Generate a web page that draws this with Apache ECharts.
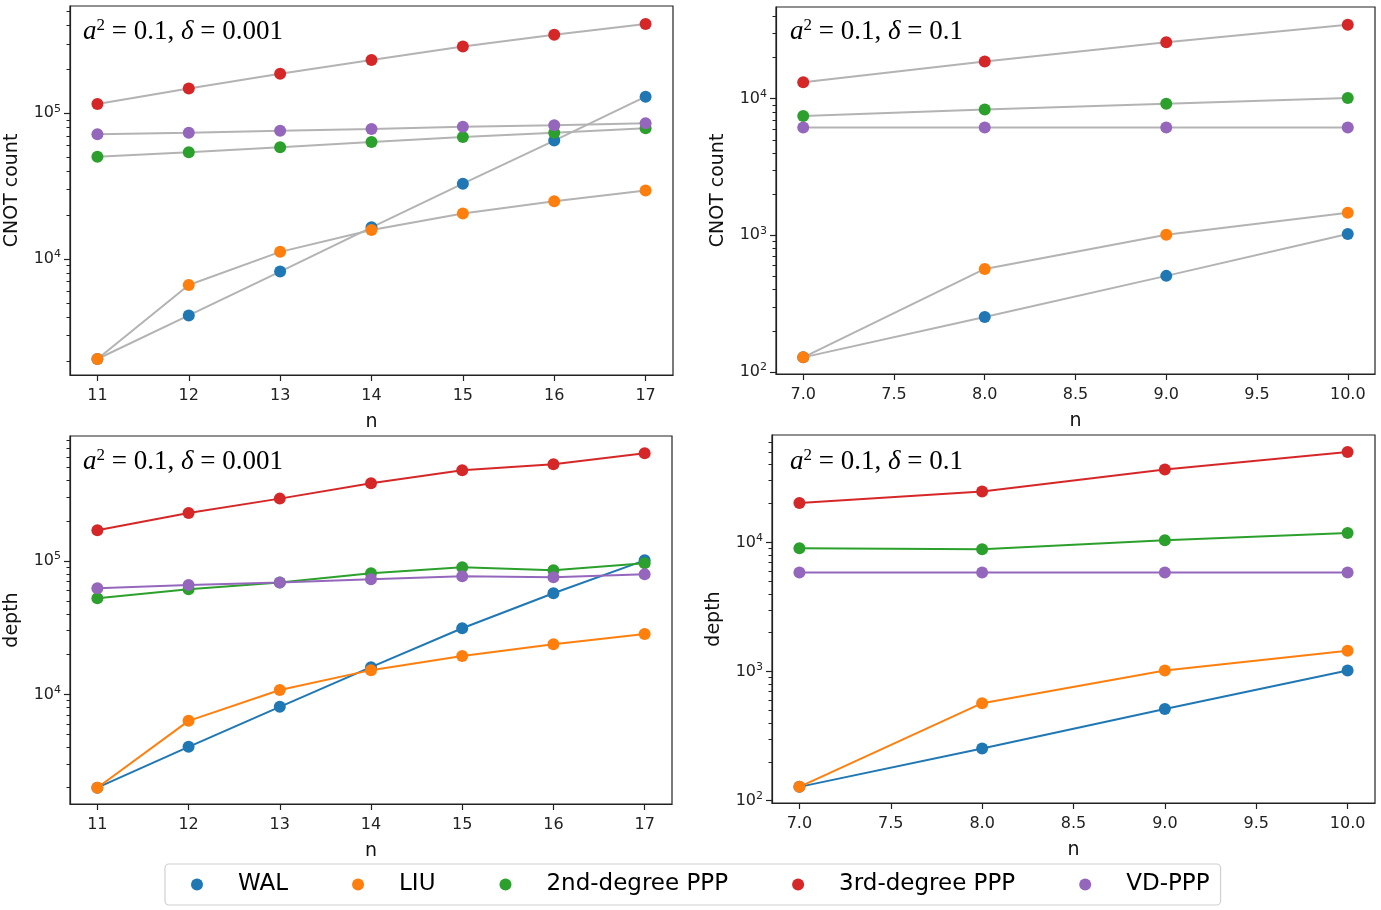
<!DOCTYPE html>
<html><head><meta charset="utf-8">
<script src="https://cdn.jsdelivr.net/npm/echarts@6/dist/echarts.min.js"></script>
<style>html,body{margin:0;padding:0;background:#fff}#c{width:1381px;height:910px}</style>
</head><body><div id="c"></div>
<script>
// ---------- data ----------
const methods = ['WAL', 'LIU', '2nd-degree PPP', '3rd-degree PPP', 'VD-PPP'];
const colors = ['#1f77b4', '#ff7f0e', '#2ca02c', '#d62728', '#9467bd'];

const nLarge = [11, 12, 13, 14, 15, 16, 17];
const nSmall = [7, 8, 9, 10];
const xTicksLarge = [11, 12, 13, 14, 15, 16, 17];
const xTicksSmall = [7, 7.5, 8, 8.5, 9, 9.5, 10];

// CNOT count, a^2 = 0.1, delta = 0.001
const cnotLargeWAL = [2060, 4100, 8200, 16500, 32900, 65000, 130000];
const cnotLargeLIU = [2060, 6640, 11200, 15800, 20500, 24900, 29500];
const cnotLarge2nd = [50400, 54000, 58500, 63500, 68800, 73600, 78900];
const cnotLarge3rd = [116000, 148000, 187000, 232000, 287000, 346000, 410000];
const cnotLargeVD  = [71800, 73600, 76000, 78000, 80900, 82800, 85400];

// CNOT count, a^2 = 0.1, delta = 0.1
const cnotSmallWAL = [128, 253, 505, 1024];
const cnotSmallLIU = [128, 568, 1010, 1460];
const cnotSmall2nd = [7460, 8310, 9190, 10100];
const cnotSmall3rd = [13200, 18700, 25800, 34700];
const cnotSmallVD  = [6140, 6140, 6140, 6150];

// depth, a^2 = 0.1, delta = 0.001
const depthLargeWAL = [2000, 4050, 8070, 16000, 31300, 57300, 101000];
const depthLargeLIU = [2000, 6340, 10800, 15200, 19400, 23800, 28300];
const depthLarge2nd = [52600, 61400, 68900, 80900, 89700, 85200, 96000];
const depthLarge3rd = [170000, 229000, 293000, 382000, 478000, 530000, 641000];
const depthLargeVD  = [62500, 66100, 68900, 73000, 76800, 75500, 79400];

// depth, a^2 = 0.1, delta = 0.1
const depthSmallWAL = [128, 254, 512, 1020];
const depthSmallLIU = [128, 569, 1020, 1450];
const depthSmall2nd = [9000, 8830, 10400, 11800];
const depthSmall3rd = [20200, 24800, 36600, 50000];
const depthSmallVD  = [5850, 5850, 5850, 5850];

// ---------- panels ----------
const FONT = 'DejaVu Sans';
const panels = [
  { grid: {left: 70, top: 6, width: 603, height: 369}, xs: nLarge, xMin: 10.7, xMax: 17.3, xTicks: xTicksLarge, dec: 0,
    yMin: 1600, yMax: 545000, yName: 'CNOT count', gray: true, delta: '0.001', tPos: [83, 17],
    data: [cnotLargeWAL, cnotLargeLIU, cnotLarge2nd, cnotLarge3rd, cnotLargeVD] },
  { grid: {left: 776, top: 7, width: 599, height: 367}, xs: nSmall, xMin: 6.85, xMax: 10.15, xTicks: xTicksSmall, dec: 1,
    yMin: 96.7, yMax: 46800, yName: 'CNOT count', gray: true, delta: '0.1', tPos: [790, 17],
    data: [cnotSmallWAL, cnotSmallLIU, cnotSmall2nd, cnotSmall3rd, cnotSmallVD] },
  { grid: {left: 70, top: 436, width: 602, height: 368}, xs: nLarge, xMin: 10.7, xMax: 17.3, xTicks: xTicksLarge, dec: 0,
    yMin: 1510, yMax: 863000, yName: 'depth', gray: false, delta: '0.001', tPos: [83, 447],
    data: [depthLargeWAL, depthLargeLIU, depthLarge2nd, depthLarge3rd, depthLargeVD] },
  { grid: {left: 772, top: 435, width: 603, height: 368}, xs: nSmall, xMin: 6.85, xMax: 10.15, xTicks: xTicksSmall, dec: 1,
    yMin: 96, yMax: 67800, yName: 'depth', gray: false, delta: '0.1', tPos: [790, 447],
    data: [depthSmallWAL, depthSmallLIU, depthSmall2nd, depthSmall3rd, depthSmallVD] }
];

function logTicks(min, max) {
  const major = [], minor = [];
  for (let k = Math.floor(Math.log10(min)); k <= Math.ceil(Math.log10(max)); k++) {
    const p = Math.pow(10, k);
    if (p >= min && p <= max) major.push(p);
    for (let m = 2; m <= 9; m++) { const v = m * p; if (v >= min && v <= max) minor.push(v); }
  }
  return {major, minor};
}

const grids = [], xAxes = [], yAxes = [], series = [], titles = [];
const axisColor = '#222';
const serifI = {fontFamily: 'Liberation Serif', fontStyle: 'italic', fontWeight: 'normal', fontSize: 27, color: '#000', lineHeight: 30};
const serifN = {fontFamily: 'Liberation Serif', fontStyle: 'normal', fontWeight: 'normal', fontSize: 27, color: '#000', lineHeight: 30};
const serifS = {fontFamily: 'Liberation Serif', fontStyle: 'normal', fontWeight: 'normal', fontSize: 17, color: '#000', lineHeight: 19, verticalAlign: 'top'};
panels.forEach((p, g) => {
  grids.push(Object.assign({show: true, borderColor: axisColor, borderWidth: 1.2, backgroundColor: 'transparent'}, p.grid));
  xAxes.push({
    type: 'value', gridIndex: g, min: p.xMin, max: p.xMax,
    name: 'n', nameLocation: 'middle', nameGap: 38,
    nameTextStyle: {fontFamily: FONT, fontSize: 19, color: '#111'},
    axisLine: {show: true, onZero: false, lineStyle: {color: axisColor, width: 1.2}},
    axisTick: {show: true, length: 6, lineStyle: {color: axisColor, width: 1.2}, customValues: p.xTicks},
    axisLabel: {fontFamily: FONT, fontSize: 16, color: '#222', margin: 13, customValues: p.xTicks,
      formatter: v => Number(v).toFixed(p.dec)},
    splitLine: {show: false}
  });
  const t = logTicks(p.yMin, p.yMax);
  yAxes.push({
    type: 'log', logBase: 10, gridIndex: g, position: 'left', min: p.yMin, max: p.yMax,
    name: p.yName, nameLocation: 'middle', nameGap: 48, nameRotate: 90,
    nameTextStyle: {fontFamily: FONT, fontSize: 19, color: '#111'},
    axisLine: {show: true, lineStyle: {color: axisColor, width: 1.2}},
    axisTick: {show: true, length: 6, lineStyle: {color: axisColor, width: 1.2}, customValues: t.major},
    axisLabel: {margin: 9, customValues: t.major,
      formatter: v => '{b|10}{s|' + Math.round(Math.log10(v)) + '}',
      rich: {b: {fontFamily: FONT, fontSize: 16, color: '#222', lineHeight: 20},
             s: {fontFamily: FONT, fontSize: 11, color: '#222', lineHeight: 12, verticalAlign: 'top'}}},
    splitLine: {show: false}, minorTick: {show: false}
  });
  yAxes.push({
    type: 'log', logBase: 10, gridIndex: g, position: 'left', offset: 0, min: p.yMin, max: p.yMax,
    axisLine: {show: false},
    axisTick: {show: true, length: 3.5, lineStyle: {color: axisColor, width: 1}, customValues: t.minor},
    axisLabel: {show: false},
    splitLine: {show: false}
  });
  titles.push({
    left: p.tPos[0], top: p.tPos[1], padding: 0,
    text: '{i|a}{s|2}{n| = 0.1, }{i|δ}{n| = ' + p.delta + '}',
    textStyle: {fontWeight: 'normal', fontFamily: 'Liberation Serif', fontSize: 27,
      rich: {i: serifI, n: serifN, s: serifS}}
  });
  const yi = 2 * g;
  p.data.forEach((arr, m) => {
    const pts = p.xs.map((x, i) => [x, arr[i]]);
    if (p.gray) {
      series.push({type: 'line', name: '_link' + m, xAxisIndex: g, yAxisIndex: yi, data: pts,
        symbol: 'none', lineStyle: {color: '#b3b3b3', width: 2}, z: 2, silent: true});
      series.push({type: 'scatter', name: methods[m], xAxisIndex: g, yAxisIndex: yi, data: pts,
        symbol: 'circle', symbolSize: 12, itemStyle: {color: colors[m], opacity: 1}, z: 3});
    } else {
      series.push({type: 'line', name: methods[m], xAxisIndex: g, yAxisIndex: yi, data: pts,
        symbol: 'circle', symbolSize: 12, showSymbol: true,
        lineStyle: {color: colors[m], width: 2}, itemStyle: {color: colors[m], opacity: 1}, z: 3});
    }
  });
});

const chart = echarts.init(document.getElementById('c'), null, {renderer: 'canvas'});
chart.setOption({
  animation: false,
  backgroundColor: '#fff',
  title: titles,
  grid: grids,
  xAxis: xAxes,
  yAxis: yAxes,
  legend: {
    data: methods, left: 165, top: 864, orient: 'horizontal',
    icon: 'circle', itemWidth: 12, itemHeight: 12, itemGap: 64,
    padding: [9, 11, 9, 26], borderColor: '#d0d0d0', borderWidth: 1.2, borderRadius: 4,
    backgroundColor: '#fff',
    formatter: name => '{sp|}{t|' + name + '}',
    textStyle: {fontFamily: FONT, fontSize: 23, color: '#000',
      rich: {sp: {width: 30}, t: {fontFamily: FONT, fontSize: 23, color: '#000'}}}
  },
  series: series
});
</script></body></html>
